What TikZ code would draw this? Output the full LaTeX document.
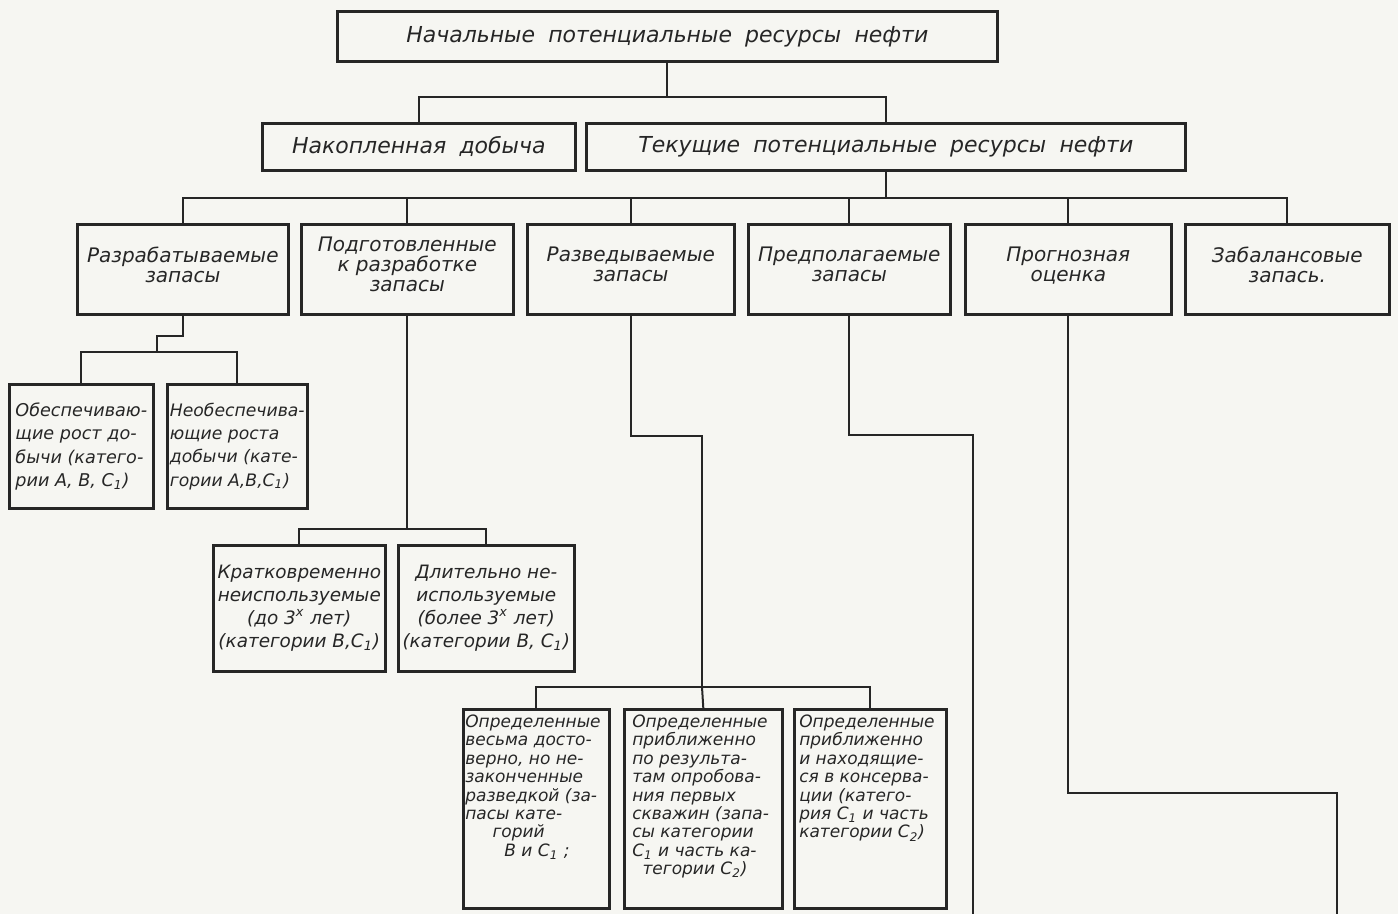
\documentclass[tikz,border=0pt]{standalone}
\usepackage{fontspec}
\setmainfont{DejaVu Sans}
\usetikzlibrary{calc}
\definecolor{paper}{RGB}{246,246,242}
\definecolor{ink}{RGB}{38,38,38}
\newcommand{\widesp}{\spaceskip=0.6em\relax}
\tikzset{
  box/.style={draw=ink, line width=1.3pt, inner sep=0pt, anchor=north west, text=ink, font=\itshape},
  link/.style={draw=ink, line width=1pt},
  bigtext/.style={font={\itshape\fontsize{11}{12}\selectfont\widesp}},
  midtext/.style={font={\itshape\fontsize{10}{10}\selectfont}, align=center},
}
\newcommand{\lowtext}[1]{\parbox[t][94pt][t]{71pt}{\fontsize{8.5}{9.2}\selectfont\raggedright #1}}

\begin{document}
\begin{tikzpicture}[x=0.5pt,y=-0.5pt]
\useasboundingbox (0,0) rectangle (1398,914);
\fill[paper] (0,0) rectangle (1398,914);
% upper levels
\node[box, bigtext, minimum width=330pt, minimum height=25pt] (top) at (336,10) {Начальные потенциальные ресурсы нефти};
\node[box, bigtext, minimum width=156.5pt, minimum height=23.5pt] (acc) at (261,122) {Накопленная добыча};
\node[box, bigtext, minimum width=299.5pt, minimum height=23.5pt] (cur) at (585,122) {Текущие потенциальные ресурсы нефти};
\node[box, midtext, minimum width=105.5pt, minimum height=45pt] (dev) at (76,223) {Разрабатываемые\\запасы\\[-5pt]};
\node[box, midtext, minimum width=106pt, minimum height=45pt] (prep) at (300,223) {Подготовленные\\к разработке\\запасы\\[-5pt]};
\node[box, midtext, minimum width=103.5pt, minimum height=45pt] (expl) at (526,223) {Разведываемые\\запасы\\[-5pt]};
\node[box, midtext, minimum width=101pt, minimum height=45pt] (ass) at (747,223) {Предполагаемые\\запасы\\[-5pt]};
\node[box, midtext, minimum width=103pt, minimum height=45pt] (fore) at (964,223) {Прогнозная\\оценка\\[-5pt]};
\node[box, midtext, minimum width=102pt, minimum height=45pt] (off) at (1184,223) {Забалансовые\\запась.\\[-5pt]};
% lower levels
\node[box, font={\itshape\fontsize{8.8}{11.7}\selectfont}, align=left, minimum width=72pt, minimum height=62pt] (ens) at (8,383)
  {Обеспечиваю-\\щие рост до-\\бычи (катего-\\рии А, В, С\textsubscript{1})};
\node[box, font={\itshape\fontsize{8.6}{11.7}\selectfont}, align=left, minimum width=70pt, minimum height=62pt] (nens) at (166,383)
  {Необеспечива-\\ющие роста\\добычи (кате-\\гории А,В,С\textsubscript{1})};
\node[box, font={\itshape\fontsize{9.2}{11.5}\selectfont}, align=center, minimum width=86pt, minimum height=63pt] (shortt) at (212,544)
  {Кратковременно\\неиспользуемые\\(до 3\textsuperscript{х} лет)\\(категории В,С\textsubscript{1})};
\node[box, font={\itshape\fontsize{9.2}{11.5}\selectfont}, align=center, minimum width=88pt, minimum height=63pt] (longt) at (397,544)
  {Длительно не-\\используемые\\(более 3\textsuperscript{х} лет)\\(категории В, С\textsubscript{1})};
\node[box, minimum width=73pt, minimum height=99.5pt] (rel) at (462,708)
  {\lowtext{Определенные\\весьма досто-\\верно, но не-\\законченные\\разведкой (за-\\пасы кате-\\\hspace*{1.6em}горий\\\hspace*{2.3em}В и С\textsubscript{1} ;}};
\node[box, minimum width=79pt, minimum height=99.5pt] (appr) at (623,708)
  {\lowtext{Определенные\\приближенно\\по результа-\\там опробова-\\ния первых\\скважин (запа-\\сы категории\\С\textsubscript{1} и часть ка-\\\hspace*{0.6em}тегории С\textsubscript{2})}};
\node[box, minimum width=76pt, minimum height=99.5pt] (cons) at (793,708)
  {\lowtext{Определенные\\приближенно\\и находящие-\\ся в консерва-\\ции (катего-\\рия С\textsubscript{1} и часть\\категории С\textsubscript{2})}};
% connectors
\coordinate (b3) at (157,352);
\coordinate (b5) at (702,687);
\coordinate (e1) at (973,916);
\coordinate (e2) at (1337,916);
\draw[link] (top.south) -- ++(0,34) coordinate (b1);
\draw[link] (acc.north) |- (b1) -| (cur.north);
\draw[link] (cur.south) -- ++(0,26) coordinate (b2);
\draw[link] (dev.north) |- (b2) -| (off.north);
\foreach \n in {prep,expl,ass,fore}
  \draw[link] (\n.north) -- (\n.north |- b2);
\draw[link] (dev.south) -- ++(0,20) -| (b3);
\draw[link] (ens.north) |- (b3) -| (nens.north);
\draw[link] (prep.south) -- ++(0,213) coordinate (b4);
\draw[link] (shortt.north) |- (b4) -| (longt.north);
\draw[link] (expl.south) -- ++(0,120) -| (b5);
\draw[link] (b5) -- (appr.north);
\draw[link] (rel.north) |- (b5) -| (cons.north);
\draw[link] (ass.south) -- ++(0,119) -| (e1);
\draw[link] (fore.south) -- ++(0,477) -| (e2);
\end{tikzpicture}
\end{document}
